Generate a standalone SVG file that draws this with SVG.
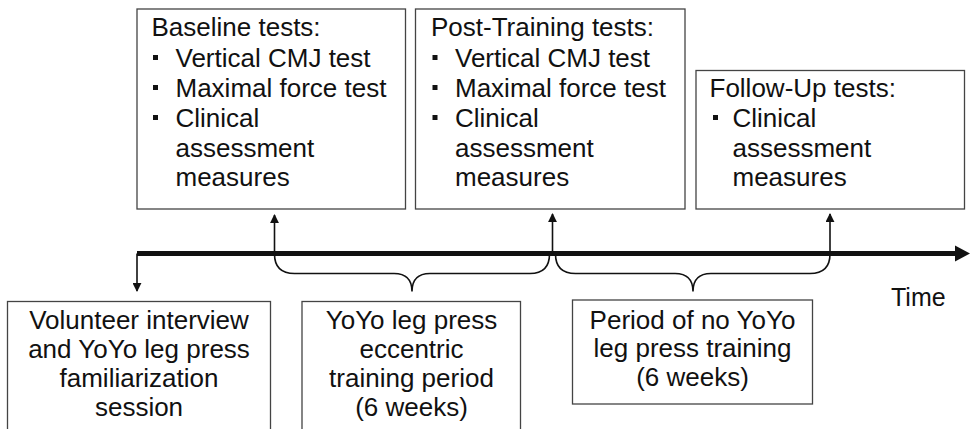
<svg xmlns="http://www.w3.org/2000/svg" width="971" height="429" viewBox="0 0 971 429">
<defs>
<style>
.box{fill:#fff;stroke:#444;stroke-width:1.3}
.t{font-family:"Liberation Sans",Arial,sans-serif;font-size:26px;fill:#111}
.c{text-anchor:middle}
.ln{fill:none;stroke:#111;stroke-width:1.6}
.bul{fill:#111}
</style>
<marker id="ah" viewBox="0 0 10 10" refX="9" refY="5" markerWidth="9" markerHeight="9" markerUnits="userSpaceOnUse" orient="auto">
<path d="M0,0 L10,5 L0,10 Z" fill="#111"/>
</marker>
</defs>
<rect width="971" height="429" fill="#fff"/>

<g id="baseline">
<rect class="box" x="137" y="9" width="268.5" height="200"/>
<text class="t" x="151.5" y="36">Baseline tests:</text>
<rect class="bul" x="153" y="55" width="5" height="5"/>
<text class="t" x="175.5" y="66.5">Vertical CMJ test</text>
<rect class="bul" x="153" y="85" width="5" height="5"/>
<text class="t" x="175.5" y="96.5">Maximal force test</text>
<rect class="bul" x="153" y="115" width="5" height="5"/>
<text class="t" x="175.5" y="126.5">Clinical</text>
<text class="t" x="175.5" y="156.5">assessment</text>
<text class="t" x="175.5" y="185.5">measures</text>
</g>

<g id="posttraining">
<rect class="box" x="415.5" y="9" width="269.5" height="200"/>
<text class="t" x="431" y="36">Post-Training tests:</text>
<rect class="bul" x="432.5" y="55" width="5" height="5"/>
<text class="t" x="455" y="66.5">Vertical CMJ test</text>
<rect class="bul" x="432.5" y="85" width="5" height="5"/>
<text class="t" x="455" y="96.5">Maximal force test</text>
<rect class="bul" x="432.5" y="115" width="5" height="5"/>
<text class="t" x="455" y="126.5">Clinical</text>
<text class="t" x="455" y="156.5">assessment</text>
<text class="t" x="455" y="185.5">measures</text>
</g>

<g id="followup">
<rect class="box" x="696" y="70.5" width="268.5" height="138.5"/>
<text class="t" x="709.5" y="96.5">Follow-Up tests:</text>
<rect class="bul" x="713" y="115" width="5" height="5"/>
<text class="t" x="732.5" y="126.5">Clinical</text>
<text class="t" x="732.5" y="156.5">assessment</text>
<text class="t" x="732.5" y="185.5">measures</text>
</g>

<g id="interview">
<rect class="box" x="7.5" y="301.5" width="263" height="140"/>
<text class="t c" x="139" y="328.5">Volunteer interview</text>
<text class="t c" x="139" y="357.5">and YoYo leg press</text>
<text class="t c" x="139" y="387">familiarization</text>
<text class="t c" x="139" y="416">session</text>
</g>

<g id="training">
<rect class="box" x="302" y="301.5" width="218.5" height="140"/>
<text class="t c" x="411.5" y="328.5">YoYo leg press</text>
<text class="t c" x="411.5" y="357.5">eccentric</text>
<text class="t c" x="411.5" y="387">training period</text>
<text class="t c" x="411.5" y="416">(6 weeks)</text>
</g>

<g id="notraining">
<rect class="box" x="572.5" y="300" width="240" height="104"/>
<text class="t c" x="692.5" y="328.5">Period of no YoYo</text>
<text class="t c" x="692.5" y="357">leg press training</text>
<text class="t c" x="692.5" y="385.5">(6 weeks)</text>
</g>

<g id="time">
<text class="t" x="891" y="306" style="font-size:25px">Time</text>
</g>

<g id="connectors">
<line x1="137" y1="253.5" x2="957" y2="253.5" stroke="#111" stroke-width="5"/>
<path d="M955,245.5 L970,253.5 L955,261.5 Z" fill="#111"/>
<line class="ln" x1="137" y1="253.5" x2="137" y2="291" marker-end="url(#ah)"/>
<line class="ln" x1="274.5" y1="254" x2="274.5" y2="215" marker-end="url(#ah)"/>
<line class="ln" x1="552.5" y1="254" x2="552.5" y2="214" marker-end="url(#ah)"/>
<line class="ln" x1="830" y1="254" x2="830" y2="214" marker-end="url(#ah)"/>
<path class="ln" d="M274.5,254 Q274.5,273.5 294.5,273.5 L394,273.5 Q412,273.5 412,291.5 Q412,273.5 430,273.5 L530,273.5 Q549.5,273.5 549.5,254"/>
<path class="ln" d="M555.5,254 Q555.5,273.5 575.5,273.5 L675,273.5 Q693,273.5 693,291.5 Q693,273.5 711,273.5 L810,273.5 Q830,273.5 830,254"/>
</g>
</svg>
